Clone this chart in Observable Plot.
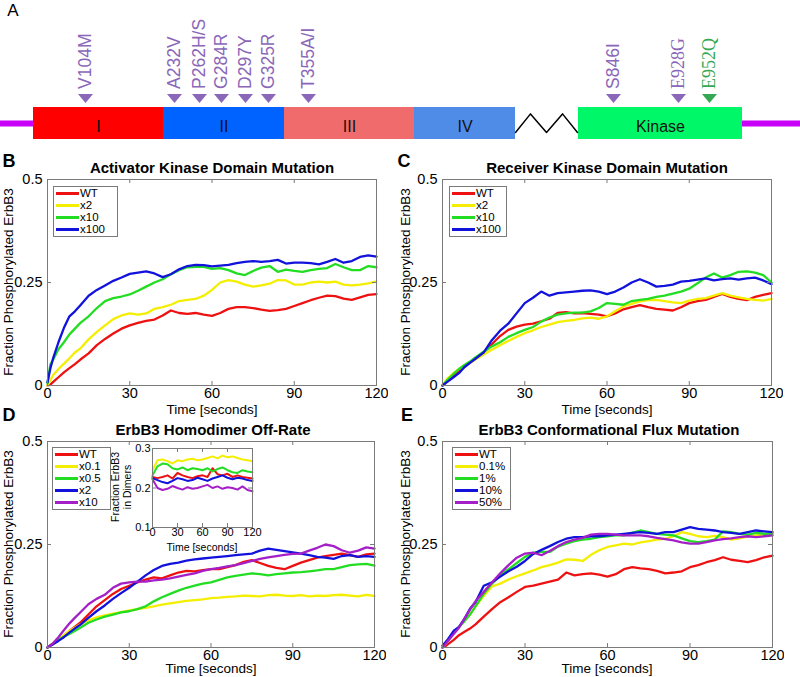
<!DOCTYPE html>
<html><head><meta charset="utf-8">
<script src="https://cdn.jsdelivr.net/npm/d3@7"></script>
<script src="https://cdn.jsdelivr.net/npm/@observablehq/plot@0.6"></script>
<style>
body{margin:0;background:#fff;}
#fig{position:relative;width:800px;height:677px;overflow:hidden;background:#fff;font-family:"Liberation Sans",Arial,Helvetica,sans-serif;}
</style></head>
<body><div id="fig"></div>
<script>
// ---------- shared axes ----------
const time = [0,1,2,4,6,8,10,12,15,18,21,24,27,30,33,36,39,42,45,48,51,54,57,60,63,66,69,72,75,78,81,84,87,90,93,96,99,102,105,108,111,114,117,120];
const insetTime = [0,6,12,18,24,30,36,42,48,54,60,66,72,78,84,90,96,102,108,114,120];
const xTickValues = [0,30,60,90,120];
const yTickValues = [0,0.25,0.5];
const insetYTickValues = [0.1,0.2,0.3];

// ---------- panel A: ErbB3 domain schematic ----------
const domainNames = ["I","II","III","IV","Kinase"];
const domainStart = [33,163,284,414,578];
const domainEnd   = [163,284,414,515,742];
const domainColors = ["#ff0000","#0062ff","#f06c6c","#4f8ce8","#00f868"];
const tailFrom = [0,742];
const tailTo   = [33,800];
const linkerX = [515,530,546,562,577];
const linkerY = [0.22,0.8,0.22,0.8,0.22];
const mutationLabels = ["V104M","A232V","P262H/S","G284R","D297Y","G325R","T355A/I","S846I","E928G","E952Q"];
const mutationPos    = [85,174,199,221,245,268,308,613,678,709];
const mutationColors = ["#8a67b8","#8a67b8","#8a67b8","#8a67b8","#8a67b8","#8a67b8","#8a67b8","#8a67b8","#8a67b8","#35a853"];
const mutationSerif  = [false,false,false,false,false,false,false,false,true,true];

// ---------- panel B: Activator Kinase Domain Mutation ----------
const legendB = ["WT","x2","x10","x100"];
const bWT   = [0,0.002,0.008,0.02,0.032,0.042,0.052,0.063,0.078,0.098,0.113,0.126,0.138,0.146,0.152,0.157,0.16,0.17,0.182,0.176,0.174,0.176,0.172,0.169,0.176,0.186,0.19,0.19,0.188,0.184,0.181,0.183,0.186,0.193,0.2,0.207,0.213,0.218,0.217,0.211,0.208,0.214,0.22,0.222];
const bX2   = [0,0.012,0.025,0.04,0.053,0.066,0.08,0.09,0.112,0.13,0.146,0.161,0.17,0.175,0.172,0.175,0.186,0.19,0.196,0.205,0.208,0.21,0.218,0.232,0.25,0.256,0.252,0.245,0.24,0.243,0.247,0.256,0.255,0.245,0.245,0.25,0.252,0.25,0.252,0.245,0.243,0.245,0.248,0.253];
const bX10  = [0.005,0.05,0.062,0.088,0.105,0.124,0.138,0.152,0.168,0.188,0.205,0.212,0.216,0.221,0.23,0.24,0.25,0.258,0.27,0.28,0.287,0.288,0.288,0.283,0.285,0.28,0.272,0.268,0.278,0.286,0.29,0.276,0.281,0.278,0.276,0.28,0.283,0.285,0.295,0.287,0.28,0.28,0.29,0.287];
const bX100 = [0.008,0.04,0.065,0.105,0.14,0.168,0.18,0.195,0.218,0.232,0.243,0.254,0.262,0.271,0.274,0.277,0.272,0.263,0.27,0.282,0.29,0.293,0.292,0.289,0.291,0.293,0.297,0.3,0.302,0.3,0.302,0.305,0.296,0.298,0.298,0.297,0.294,0.3,0.307,0.298,0.302,0.312,0.316,0.313];

// ---------- panel C: Receiver Kinase Domain Mutation ----------
const legendC = ["WT","x2","x10","x100"];
const cWT   = [0,0.005,0.012,0.022,0.035,0.045,0.055,0.065,0.08,0.1,0.12,0.135,0.143,0.148,0.15,0.156,0.162,0.176,0.178,0.175,0.176,0.174,0.172,0.168,0.175,0.185,0.19,0.195,0.19,0.186,0.184,0.182,0.19,0.2,0.205,0.208,0.215,0.222,0.215,0.21,0.207,0.215,0.22,0.224];
const cX2   = [0,0.01,0.018,0.03,0.04,0.048,0.055,0.063,0.075,0.087,0.098,0.108,0.118,0.127,0.134,0.142,0.148,0.154,0.157,0.159,0.163,0.165,0.162,0.168,0.18,0.192,0.198,0.204,0.207,0.208,0.205,0.202,0.2,0.206,0.21,0.212,0.218,0.224,0.218,0.214,0.21,0.208,0.206,0.21];
const cX10  = [0,0.008,0.015,0.028,0.04,0.05,0.058,0.068,0.082,0.095,0.105,0.118,0.127,0.135,0.142,0.155,0.165,0.172,0.175,0.177,0.177,0.18,0.188,0.2,0.198,0.196,0.205,0.208,0.21,0.215,0.218,0.223,0.228,0.235,0.248,0.262,0.272,0.262,0.268,0.276,0.277,0.274,0.268,0.25];
const cX100 = [0,0.005,0.01,0.02,0.03,0.045,0.055,0.065,0.08,0.11,0.133,0.15,0.175,0.2,0.213,0.228,0.218,0.224,0.226,0.228,0.23,0.231,0.228,0.222,0.228,0.238,0.25,0.258,0.25,0.24,0.242,0.245,0.252,0.254,0.257,0.26,0.255,0.258,0.26,0.257,0.26,0.262,0.255,0.246];

// ---------- panel D: ErbB3 Homodimer Off-Rate ----------
const legendD = ["WT","x0.1","x0.5","x2","x10"];
const dWT   = [0,0.004,0.008,0.018,0.028,0.04,0.05,0.06,0.08,0.1,0.115,0.13,0.142,0.15,0.158,0.165,0.17,0.168,0.175,0.182,0.186,0.185,0.188,0.19,0.19,0.195,0.2,0.208,0.212,0.205,0.198,0.193,0.19,0.198,0.206,0.212,0.218,0.222,0.225,0.228,0.224,0.22,0.226,0.228];
const dX01  = [0,0.005,0.01,0.02,0.03,0.04,0.048,0.056,0.066,0.073,0.078,0.082,0.086,0.09,0.093,0.096,0.1,0.104,0.107,0.11,0.113,0.115,0.117,0.12,0.121,0.123,0.124,0.126,0.125,0.124,0.127,0.128,0.126,0.125,0.127,0.124,0.126,0.125,0.127,0.128,0.126,0.124,0.128,0.125];
const dX05  = [0,0.005,0.01,0.018,0.026,0.033,0.04,0.048,0.06,0.068,0.075,0.08,0.085,0.088,0.093,0.1,0.112,0.122,0.13,0.138,0.145,0.15,0.155,0.158,0.164,0.17,0.174,0.177,0.18,0.178,0.175,0.178,0.18,0.182,0.183,0.185,0.187,0.19,0.19,0.195,0.2,0.202,0.203,0.199];
const dX2   = [0,0.004,0.008,0.016,0.025,0.036,0.046,0.055,0.072,0.088,0.102,0.118,0.132,0.145,0.16,0.175,0.188,0.198,0.203,0.206,0.211,0.214,0.216,0.218,0.22,0.222,0.224,0.226,0.228,0.235,0.24,0.237,0.234,0.231,0.228,0.224,0.22,0.218,0.215,0.222,0.224,0.22,0.222,0.22];
const dX10  = [0,0.005,0.01,0.025,0.042,0.058,0.072,0.085,0.105,0.118,0.128,0.145,0.155,0.158,0.16,0.16,0.163,0.165,0.168,0.172,0.176,0.18,0.186,0.19,0.193,0.197,0.2,0.205,0.21,0.215,0.219,0.222,0.225,0.227,0.228,0.235,0.242,0.25,0.246,0.236,0.23,0.235,0.243,0.24];
// inset: Fraction ErbB3 in Dimers
const iWT   = [0.228,0.225,0.228,0.232,0.224,0.238,0.232,0.228,0.225,0.23,0.232,0.228,0.25,0.235,0.232,0.236,0.228,0.232,0.228,0.226,0.224];
const iX01  = [0.245,0.27,0.272,0.268,0.262,0.27,0.268,0.272,0.274,0.27,0.272,0.276,0.28,0.275,0.282,0.278,0.28,0.276,0.272,0.27,0.268];
const iX05  = [0.232,0.255,0.262,0.26,0.25,0.247,0.252,0.245,0.25,0.248,0.245,0.25,0.242,0.248,0.252,0.245,0.24,0.238,0.245,0.242,0.24];
const iX2   = [0.225,0.22,0.215,0.212,0.218,0.225,0.222,0.218,0.22,0.226,0.222,0.218,0.224,0.228,0.232,0.226,0.222,0.226,0.224,0.22,0.218];
const iX10  = [0.222,0.2,0.195,0.198,0.205,0.2,0.196,0.202,0.198,0.2,0.204,0.208,0.2,0.204,0.198,0.202,0.2,0.196,0.204,0.195,0.192];

// ---------- panel E: ErbB3 Conformational Flux Mutation ----------
const legendE = ["WT","0.1%","1%","10%","50%"];
const eWT   = [0,0.003,0.008,0.018,0.03,0.038,0.046,0.056,0.075,0.093,0.11,0.122,0.135,0.147,0.15,0.155,0.16,0.165,0.182,0.175,0.178,0.18,0.177,0.172,0.178,0.19,0.195,0.192,0.19,0.186,0.18,0.182,0.185,0.195,0.2,0.207,0.212,0.219,0.213,0.21,0.207,0.212,0.219,0.223];
const eP01  = [0,0.008,0.016,0.035,0.05,0.065,0.08,0.1,0.125,0.148,0.155,0.165,0.173,0.18,0.187,0.195,0.2,0.206,0.214,0.213,0.21,0.225,0.236,0.244,0.248,0.252,0.25,0.255,0.258,0.262,0.264,0.27,0.28,0.276,0.27,0.268,0.271,0.268,0.262,0.265,0.27,0.272,0.274,0.276];
const eP1   = [0,0.01,0.018,0.035,0.05,0.064,0.08,0.1,0.13,0.155,0.175,0.19,0.205,0.22,0.23,0.232,0.232,0.245,0.252,0.258,0.262,0.264,0.268,0.27,0.272,0.272,0.278,0.284,0.28,0.276,0.274,0.272,0.265,0.258,0.256,0.258,0.262,0.282,0.28,0.276,0.274,0.278,0.276,0.276];
const eP10  = [0.005,0.012,0.02,0.04,0.05,0.07,0.094,0.11,0.15,0.158,0.172,0.185,0.196,0.21,0.227,0.237,0.246,0.256,0.264,0.268,0.268,0.27,0.27,0.272,0.274,0.276,0.278,0.28,0.278,0.276,0.28,0.28,0.286,0.292,0.288,0.286,0.284,0.28,0.278,0.276,0.28,0.284,0.282,0.28];
const eP50  = [0,0.008,0.016,0.032,0.048,0.07,0.092,0.112,0.135,0.158,0.18,0.2,0.218,0.228,0.23,0.224,0.234,0.246,0.256,0.262,0.266,0.274,0.276,0.276,0.274,0.272,0.272,0.272,0.27,0.266,0.263,0.26,0.255,0.252,0.252,0.256,0.26,0.263,0.265,0.268,0.27,0.268,0.27,0.272];

// ---------- styles ----------
const RED="#ee1111", YELLOW="#f4ee00", GREEN="#22dd22", BLUE="#1212dd", PURPLE="#a51fc8";
const SANS = '"Liberation Sans", Arial, Helvetica, sans-serif';
const SERIF = '"Liberation Serif", "Times New Roman", serif';
const FRAME = "#7a7a7a";
const fig = document.getElementById("fig");

function place(el, x, y){ el.style.position="absolute"; el.style.left=x+"px"; el.style.top=y+"px"; fig.appendChild(el); }
function label(text, x, y, {size=14, weight="normal", rotate=0, family=SANS}={}){
  const d=document.createElement("div"); d.textContent=text;
  Object.assign(d.style,{fontSize:size+"px",fontWeight:weight,fontFamily:family,color:"#000",whiteSpace:"nowrap",lineHeight:"1",transform:`translate(-50%,-50%) rotate(${rotate}deg)`});
  place(d,x,y);
}
function legend(x, y, w, names, colors){
  const box=document.createElement("div");
  Object.assign(box.style,{width:w+"px",border:"1px solid "+FRAME,background:"#fff",boxSizing:"border-box",padding:"0 0 1px 2px",fontFamily:SANS});
  names.forEach((n,i)=>{
    const row=document.createElement("div");
    Object.assign(row.style,{display:"flex",alignItems:"center",height:"12px",overflow:"hidden"});
    const sw=document.createElement("span");
    Object.assign(sw.style,{display:"inline-block",width:"23px",height:"3px",background:colors[i],flex:"none"});
    const tx=document.createElement("span"); tx.textContent=n;
    Object.assign(tx.style,{fontSize:"11.5px",lineHeight:"12px",marginLeft:"1px"});
    row.appendChild(sw); row.appendChild(tx); box.appendChild(row);
  });
  place(box,x,y);
}

// ---------- panel A plot ----------
const domainData = domainNames.map((n,i)=>({name:n,start:domainStart[i],end:domainEnd[i],color:domainColors[i]}));
const tailData = tailFrom.map((f,i)=>({from:f,to:tailTo[i]}));
const linkerData = linkerX.map((x,i)=>({x,y:linkerY[i]}));
const mutData = mutationLabels.map((l,i)=>({label:l,pos:mutationPos[i],color:mutationColors[i],serif:mutationSerif[i]}));
const downTriangle = {draw(ctx){ ctx.moveTo(-7.5,-4.5); ctx.lineTo(7.5,-4.5); ctx.lineTo(0,4.5); ctx.closePath(); }};

const plotA = Plot.plot({
  width:800, height:145, margin:0,
  x:{domain:[0,800], range:[0,800], axis:null},
  y:{domain:[0,1], range:[139,107], axis:null},
  color:{type:"identity"},
  style:{background:"transparent", fontFamily:SANS},
  marks:[
    Plot.ruleY(tailData,{y:0.5, x1:"from", x2:"to", stroke:"#c800f8", strokeWidth:6}),
    Plot.rect(domainData,{x1:"start", x2:"end", y1:0, y2:1, fill:"color"}),
    Plot.text(domainData,{x:d=>(d.start+d.end)/2, y:0.4, text:"name", fontSize:16, fill:"#111"}),
    Plot.line(linkerData,{x:"x", y:"y", stroke:"#000", strokeWidth:1.5}),
    Plot.dot(mutData,{x:"pos", y:1.28, symbol:downTriangle, fill:"color", stroke:"none", r:5}),
    Plot.text(mutData.filter(d=>!d.serif),{x:"pos", y:1.58, text:"label", rotate:-90, textAnchor:"start", fill:"color", fontSize:17.5, fontFamily:SANS}),
    Plot.text(mutData.filter(d=>d.serif),{x:"pos", y:1.58, text:"label", rotate:-90, textAnchor:"start", fill:"color", fontSize:18, fontFamily:SERIF})
  ]
});
place(plotA,0,0);

// ---------- line panel builder ----------
function linePanel({x0,x1,y0,y1,t,series,yDomain,yTicks,ml,mr,mt,mb,fontSize,fill,sw,tickPadX,tickPadY}){
  const rows = series.flatMap(s=>s.values.map((v,i)=>({t:t[i], v, key:s.name, color:s.color})));
  const tx = 4*120/(x1-x0), ty = 4*(yDomain[1]-yDomain[0])/(y1-y0);
  const svg = Plot.plot({
    width:x1-x0+ml+mr, height:y1-y0+mt+mb,
    marginLeft:ml, marginRight:mr, marginTop:mt, marginBottom:mb,
    x:{domain:[0,120], axis:null}, y:{domain:yDomain, axis:null},
    color:{type:"identity"},
    style:{background:"transparent", fontFamily:SANS, fontSize:fontSize+"px", color:"#000"},
    marks:[
      Plot.frame({fill:fill, stroke:"none"}),
      Plot.line(rows,{x:"t", y:"v", z:"key", stroke:"color", strokeWidth:sw, strokeLinejoin:"round", strokeLinecap:"round"}),
      Plot.ruleX(xTickValues,{x:d=>d, y1:yDomain[0], y2:yDomain[0]+ty, stroke:FRAME}),
      Plot.ruleX(xTickValues,{x:d=>d, y1:yDomain[1]-ty, y2:yDomain[1], stroke:FRAME}),
      Plot.ruleY(yTicks,{y:d=>d, x1:0, x2:tx, stroke:FRAME}),
      Plot.ruleY(yTicks,{y:d=>d, x1:120-tx, x2:120, stroke:FRAME}),
      Plot.axisX({ticks:xTickValues, anchor:"bottom", tickSize:0, tickPadding:tickPadX, label:null, tickFormat:d=>String(d)}),
      Plot.axisY({ticks:yTicks, anchor:"left", tickSize:0, tickPadding:tickPadY, label:null, tickFormat:d=>String(d)}),
      Plot.frame({stroke:FRAME, fill:"none"})
    ]
  });
  place(svg, x0-ml, y0-mt);
}
const mainOpts = {t:time, yDomain:[0,0.5], yTicks:yTickValues, ml:45, mr:12, mt:10, mb:20, fontSize:14.5, fill:"none", sw:2.3, tickPadX:2, tickPadY:5};

linePanel({...mainOpts, x0:47, x1:376, y0:179, y1:385, series:[
  {name:"WT",values:bWT,color:RED},{name:"x2",values:bX2,color:YELLOW},{name:"x10",values:bX10,color:GREEN},{name:"x100",values:bX100,color:BLUE}]});
linePanel({...mainOpts, x0:442, x1:771, y0:179, y1:385, series:[
  {name:"WT",values:cWT,color:RED},{name:"x2",values:cX2,color:YELLOW},{name:"x10",values:cX10,color:GREEN},{name:"x100",values:cX100,color:BLUE}]});
linePanel({...mainOpts, x0:47, x1:374, y0:441, y1:647, series:[
  {name:"WT",values:dWT,color:RED},{name:"x0.1",values:dX01,color:YELLOW},{name:"x0.5",values:dX05,color:GREEN},{name:"x2",values:dX2,color:BLUE},{name:"x10",values:dX10,color:PURPLE}]});
linePanel({...mainOpts, x0:442, x1:772, y0:441, y1:647, series:[
  {name:"WT",values:eWT,color:RED},{name:"0.1%",values:eP01,color:YELLOW},{name:"1%",values:eP1,color:GREEN},{name:"10%",values:eP10,color:BLUE},{name:"50%",values:eP50,color:PURPLE}]});

// ---------- texts ----------
label("A",13,10,{size:17});
label("B",9,161,{size:18,weight:"bold"});
label("C",404,161,{size:18,weight:"bold"});
label("D",9,415,{size:18,weight:"bold"});
label("E",407,415,{size:18,weight:"bold"});
label("Activator Kinase Domain Mutation",212,167,{size:15,weight:"bold"});
label("Receiver Kinase Domain Mutation",607,167,{size:15,weight:"bold"});
label("ErbB3 Homodimer Off-Rate",213,429,{size:15,weight:"bold"});
label("ErbB3 Conformational Flux Mutation",609,429,{size:15,weight:"bold"});
const yLab = "Fraction Phosphorylated ErbB3", xLab = "Time [seconds]";
label(yLab,9,282,{size:13.5,rotate:-90});
label(yLab,406,282,{size:13.5,rotate:-90});
label(yLab,9,544,{size:13.5,rotate:-90});
label(yLab,406,544,{size:13.5,rotate:-90});
label(xLab,212,410,{size:13.5});
label(xLab,607,410,{size:13.5});
label(xLab,211,669,{size:13.5});
label(xLab,607,669,{size:13.5});

// ---------- legends ----------
legend(53,186,65,legendB,[RED,YELLOW,GREEN,BLUE]);
legend(449,186,58,legendC,[RED,YELLOW,GREEN,BLUE]);
legend(52,447,59,legendD,[RED,YELLOW,GREEN,BLUE,PURPLE]);
legend(452,447,59,legendE,[RED,YELLOW,GREEN,BLUE,PURPLE]);

// ---------- inset in D ----------
linePanel({x0:152, x1:252, y0:448, y1:527, t:insetTime, yDomain:[0.1,0.3], yTicks:insetYTickValues, ml:22, mr:14, mt:6, mb:13, fontSize:11, fill:"#fff", sw:2, tickPadX:1, tickPadY:2, series:[
  {name:"WT",values:iWT,color:RED},{name:"x0.1",values:iX01,color:YELLOW},{name:"x0.5",values:iX05,color:GREEN},{name:"x2",values:iX2,color:BLUE},{name:"x10",values:iX10,color:PURPLE}]});
label("Time [seconds]",202,547,{size:10.5});
label("Fraction ErbB3",115,487,{size:10.5,rotate:-90});
label("in Dimers",127,487,{size:10.5,rotate:-90});
</script>
</body></html>
